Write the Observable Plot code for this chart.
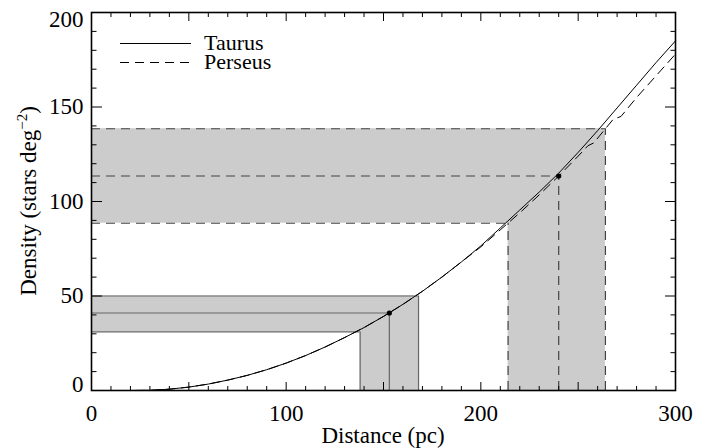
<!DOCTYPE html>
<html><head><meta charset="utf-8">
<script src="https://cdn.jsdelivr.net/npm/d3@7"></script>
<script src="https://cdn.jsdelivr.net/npm/@observablehq/plot@0.6"></script>
<style>
body{margin:0;background:#fff}
#chart svg{font-family:"Liberation Serif","DejaVu Serif",serif}
</style>
</head><body><div id="chart"></div>
<script>
// Taurus curve (distance in pc, density in stars deg^-2)
const taurusDistance = [0,10,20,30,40,50,60,70,80,90,100,110,120,130,140,150,160,170,180,190,200,210,220,230,240,250,260,270,280,290,300];
const taurusDensity  = [0,0,0,0.1,0.7,1.8,3.4,5.5,8.0,11.0,14.5,18.5,23.0,28.0,33.3,39.2,45.6,52.5,60.0,68.0,76.5,86.0,95.5,105.0,115.0,126.0,137.5,149.5,161.5,173.5,185.0];
// Perseus curve
const perseusDistance = [0,10,20,30,40,50,60,70,80,90,100,110,120,130,140,150,160,170,180,190,200,210,220,230,240,250,255,258,264,268,272,280,290,300];
const perseusDensity  = [0,0,0,0.1,0.7,1.8,3.4,5.5,8.0,11.0,14.5,18.5,23.0,28.0,33.3,39.2,45.6,52.5,60.0,68.0,76.0,85.0,94.0,103.5,113.5,124.0,129.5,131.0,138.5,143.5,145.0,155.0,166.5,178.0];
// Read-off values: low, central, high
const taurusReadX  = [138,153,168];
const taurusReadY  = [31,41,50];
const perseusReadX = [214,240,264];
const perseusReadY = [88.5,113.5,138.5];
// Ticks
const xLabelTicks = [0,100,200,300];
const yLabelTicks = [0,50,100,150,200];
const xMinor = d3.range(0,301,10).filter(d => d % 50 !== 0);
const xMajor = d3.range(0,301,50);
const yMinor = d3.range(0,201,10).filter(d => d % 50 !== 0);
const yMajor = d3.range(0,201,50);

const taurus = taurusDistance.map((d,i) => ({d, v: taurusDensity[i]}));
const perseus = perseusDistance.map((d,i) => ({d, v: perseusDensity[i]}));
const tRead = taurusReadX.map((x,i) => ({x, y: taurusReadY[i]}));
const pRead = perseusReadX.map((x,i) => ({x, y: perseusReadY[i]}));
const bands = [
  {x1: 0, x2: taurusReadX[2], y1: taurusReadY[0], y2: taurusReadY[2]},
  {x1: taurusReadX[0], x2: taurusReadX[2], y1: 0, y2: taurusReadY[2]},
  {x1: 0, x2: perseusReadX[2], y1: perseusReadY[0], y2: perseusReadY[2]},
  {x1: perseusReadX[0], x2: perseusReadX[2], y1: 0, y2: perseusReadY[2]}
];

const dash = "9,6";
const fs = 23;
const plot = Plot.plot({
  width: 724, height: 448,
  marginLeft: 91, marginRight: 49, marginTop: 12, marginBottom: 58,
  style: {fontFamily: '"Liberation Serif", serif', fontSize: fs + "px", background: "#fff", color: "#000"},
  x: {domain: [0,300]},
  y: {domain: [0,200]},
  marks: [
    Plot.rect(bands, {x1: "x1", x2: "x2", y1: "y1", y2: "y2", fill: "#cccccc"}),
    Plot.ruleY(tRead, {y: "y", x1: 0, x2: "x", stroke: "#666", strokeWidth: 1.2}),
    Plot.ruleX(tRead, {x: "x", y1: 0, y2: "y", stroke: "#666", strokeWidth: 1.2}),
    Plot.ruleY(pRead, {y: "y", x1: 0, x2: "x", stroke: "#444", strokeWidth: 1.2, strokeDasharray: dash}),
    Plot.ruleX(pRead, {x: "x", y1: 0, y2: "y", stroke: "#444", strokeWidth: 1.2, strokeDasharray: dash}),
    Plot.line(taurus, {x: "d", y: "v", stroke: "#000", strokeWidth: 1}),
    Plot.line(perseus, {x: "d", y: "v", stroke: "#000", strokeWidth: 1, strokeDasharray: dash}),
    Plot.dot([tRead[1], pRead[1]], {x: "x", y: "y", r: 2.6, fill: "#000"}),
    // inward ticks on all four sides
    Plot.axisX(xMinor, {anchor: "bottom", tickSize: -4, fill: "none", label: null}),
    Plot.axisX(xMajor, {anchor: "bottom", tickSize: -8, fill: "none", label: null}),
    Plot.axisX(xMinor, {anchor: "top", tickSize: -4, fill: "none", label: null}),
    Plot.axisX(xMajor, {anchor: "top", tickSize: -8, fill: "none", label: null}),
    Plot.axisY(yMinor, {anchor: "left", tickSize: -5.5, fill: "none", label: null}),
    Plot.axisY(yMajor, {anchor: "left", tickSize: -11, fill: "none", label: null}),
    Plot.axisY(yMinor, {anchor: "right", tickSize: -5.5, fill: "none", label: null}),
    Plot.axisY(yMajor, {anchor: "right", tickSize: -11, fill: "none", label: null}),
    // tick labels
    Plot.axisX(xLabelTicks, {anchor: "bottom", tickSize: 0, tickPadding: 14, fontSize: fs, label: null}),
    Plot.axisY(yLabelTicks.slice(1,4), {anchor: "left", tickSize: 0, tickPadding: 8, fontSize: fs, label: null}),
    Plot.axisY(yLabelTicks.slice(0,1), {anchor: "left", tickSize: 0, tickPadding: 8, fontSize: fs, dy: -6, label: null}),
    Plot.axisY(yLabelTicks.slice(4), {anchor: "left", tickSize: 0, tickPadding: 8, fontSize: fs, dy: 7, label: null}),
    Plot.frame({stroke: "#000", strokeWidth: 1.6})
  ]
});
document.getElementById("chart").appendChild(plot);

const svg = d3.select(plot);
// axis titles
svg.append("text").attr("x", 383).attr("y", 443).attr("text-anchor", "middle")
  .attr("font-size", fs).attr("fill", "#000").text("Distance (pc)");
const yl = svg.append("text").attr("transform", "translate(36,201) rotate(-90)")
  .attr("text-anchor", "middle").attr("font-size", fs).attr("fill", "#000");
yl.append("tspan").text("Density (stars deg");
yl.append("tspan").attr("font-size", 15).attr("dy", -9).text("\u22122");
yl.append("tspan").attr("dy", 9).text(")");
// legend
const legend = [
  {name: "Taurus", dash: null, y: 43.5},
  {name: "Perseus", dash: dash, y: 62.5}
];
legend.forEach(l => {
  svg.append("line").attr("x1", 120).attr("x2", 191).attr("y1", l.y).attr("y2", l.y)
    .attr("stroke", "#000").attr("stroke-width", 1).attr("stroke-dasharray", l.dash);
  svg.append("text").attr("x", 204).attr("y", l.y + 6).attr("text-anchor", "start")
    .attr("font-size", fs - 1).attr("fill", "#000").text(l.name);
});
</script>
</body></html>
